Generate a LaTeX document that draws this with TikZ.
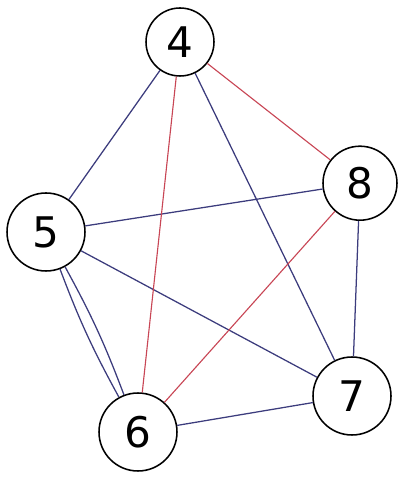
\documentclass[tikz,border=0pt]{standalone}
\usepackage{fontspec}
\setmainfont{DejaVu Sans}
\usepackage{xcolor}
\usetikzlibrary{positioning}
\definecolor{penblue}{RGB}{60,60,125}
\definecolor{penred}{RGB}{200,70,85}
\tikzset{
  vertexnode/.style={draw=black,line width=1.1pt,circle,minimum size=1.95cm,inner sep=0pt,
    font=\fontsize{30}{34}\selectfont},
  blueedge/.style={draw=penblue,line width=0.9pt},
  rededge/.style={draw=penred,line width=0.8pt}
}
\begin{document}
\begin{tikzpicture}
  \useasboundingbox (0,0) rectangle (10.15,12);
  \node[vertexnode,minimum size=1.7cm] (v4) at (4.5,10.95) {4};
  \node[vertexnode] (v5) at (1.15,6.2) {5};
  \node[vertexnode] (v6) at (3.45,1.2) {6};
  \node[vertexnode] (v7) at (8.8,2.1) {7};
  \node[vertexnode,minimum size=1.85cm] (v8) at (9.0,7.42) {8};
  % blue edges
  \draw[blueedge] (v4)--(v5);
  \draw[blueedge] (v4)--(v7);
  \draw[blueedge] (v5)--(v8);
  \draw[blueedge] (v5)--(v7);
  \draw[blueedge] (v5) to[bend left=4] (v6);
  \draw[blueedge] (v5) to[bend right=4] (v6);
  \draw[blueedge] (v6)--(v7);
  \draw[blueedge] (v8)--(v7);
  % red edges
  \draw[rededge] (v4)--(v6);
  \draw[rededge] (v4)--(v8);
  \draw[rededge] (v6)--(v8);
\end{tikzpicture}
\end{document}
